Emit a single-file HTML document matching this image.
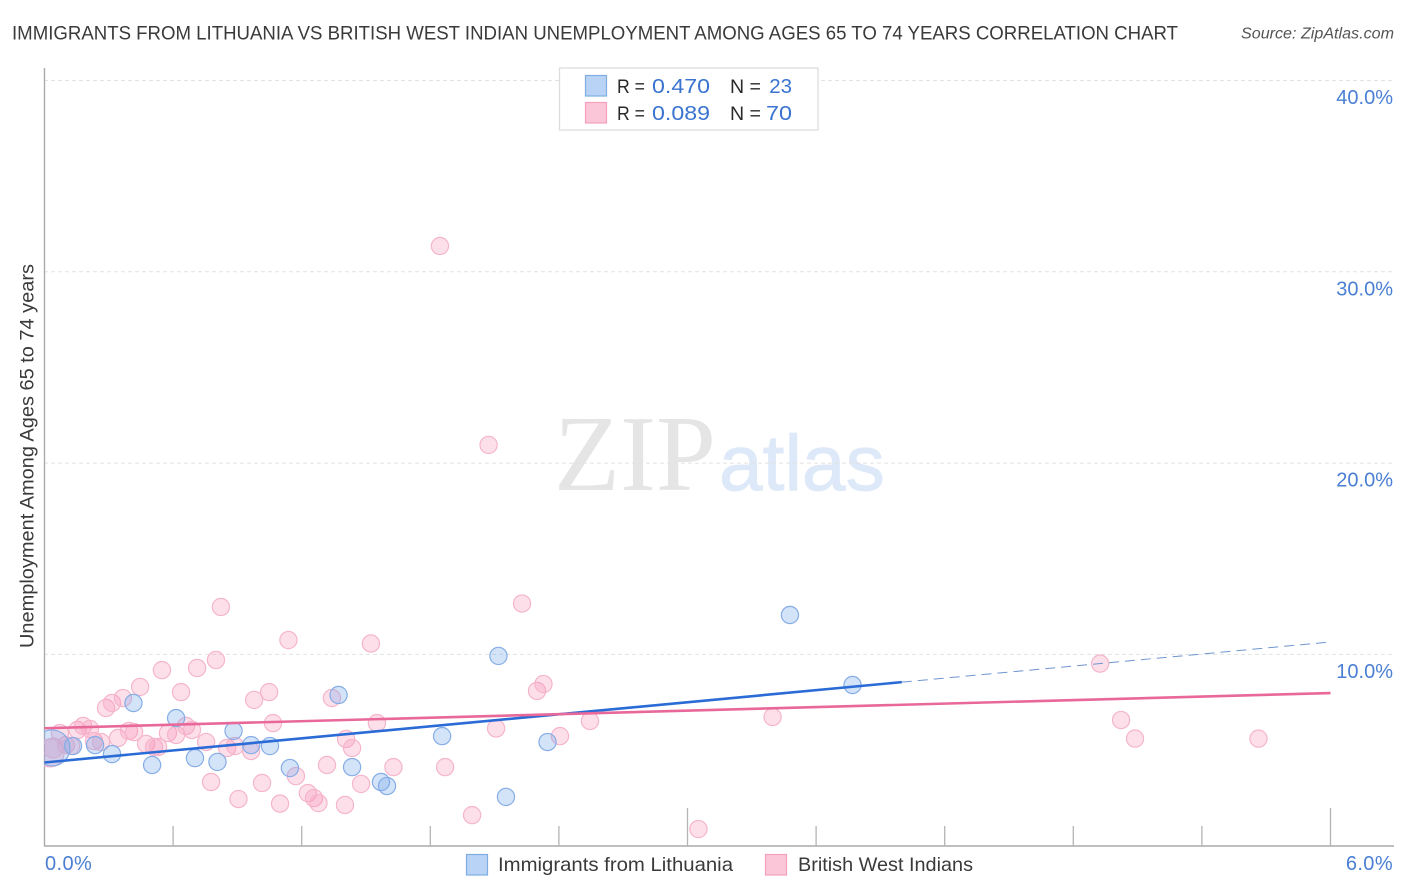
<!DOCTYPE html>
<html lang="en">
<head>
<meta charset="utf-8">
<title>Immigrants from Lithuania vs British West Indian Unemployment Correlation Chart</title>
<style>
  html, body { margin: 0; padding: 0; background: #fff; }
  body { width: 1406px; height: 892px; overflow: hidden; }
  svg { display: block; font-family: "Liberation Sans", sans-serif; }
</style>
</head>
<body>
<svg id="chart" width="1406" height="892" viewBox="0 0 1406 892">
  <defs>
    <clipPath id="plot-clip"><rect x="44" y="60" width="1350" height="786"></rect></clipPath>
  </defs>

  <text x="12" y="39.5" font-size="19.5" fill="#3a3a3a" textLength="1166" lengthAdjust="spacingAndGlyphs">IMMIGRANTS FROM LITHUANIA VS BRITISH WEST INDIAN UNEMPLOYMENT AMONG AGES 65 TO 74 YEARS CORRELATION CHART</text>
  <text x="1241" y="38.5" font-size="15.5" font-style="italic" fill="#555" textLength="153" lengthAdjust="spacingAndGlyphs">Source: ZipAtlas.com</text>

  <g>
    <text x="554" y="490" font-family="'Liberation Serif', serif" font-size="108" fill="#e5e5e5">ZIP</text>
    <text x="719" y="490" font-size="78.5" fill="#dde8f8" stroke="#dde8f8" stroke-width="0.8">atlas</text>
  </g>

  <g id="grid"></g>
  <g id="axes">
    <line x1="44.5" y1="68" x2="44.5" y2="846" stroke="#aaa" stroke-width="1.4"></line>
    <line x1="44" y1="846" x2="1394" y2="846" stroke="#aaa" stroke-width="1.4"></line>
  </g>
  <g id="x-ticks"></g>
  <g id="y-labels"></g>
  <g id="x-labels"></g>

  <text transform="translate(33.5 456) rotate(-90)" font-size="19" fill="#3a3a3a" text-anchor="middle" textLength="384" lengthAdjust="spacingAndGlyphs">Unemployment Among Ages 65 to 74 years</text>

  <g id="points" clip-path="url(#plot-clip)"></g>
  <g id="trends"></g>

  <g>
    <rect x="559.5" y="68" width="258.5" height="62" fill="#fff" stroke="#ddd" stroke-width="1.3"></rect>
    <rect x="585.5" y="75.5" width="21" height="20.5" fill="#b9d3f6" stroke="#7fadE2" stroke-width="1.2"></rect>
    <rect x="585.5" y="102.5" width="21" height="20.5" fill="#fcc6d9" stroke="#f2a0bb" stroke-width="1.2"></rect>
    <g font-size="19" fill="#2a2a2a">
      <text x="617" y="93" textLength="28" lengthAdjust="spacingAndGlyphs">R =</text>
      <text x="617" y="120" textLength="28" lengthAdjust="spacingAndGlyphs">R =</text>
      <text x="730" y="93" textLength="31" lengthAdjust="spacingAndGlyphs">N =</text>
      <text x="730" y="120" textLength="31" lengthAdjust="spacingAndGlyphs">N =</text>
    </g>
    <g font-size="20.5" fill="#3a74cf">
      <text x="652" y="93" textLength="58" lengthAdjust="spacingAndGlyphs">0.470</text>
      <text x="652" y="120" textLength="58" lengthAdjust="spacingAndGlyphs">0.089</text>
      <text x="792" y="93" text-anchor="end">23</text>
      <text x="792" y="120" text-anchor="end" textLength="26" lengthAdjust="spacingAndGlyphs">70</text>
    </g>
  </g>

  <g>
    <g>
      <rect x="466.5" y="854.5" width="21" height="20.5" fill="#b9d3f6" stroke="#7fadE2" stroke-width="1.2"></rect>
      <text x="498" y="871" font-size="19.5" fill="#3a3a3a" textLength="235" lengthAdjust="spacingAndGlyphs">Immigrants from Lithuania</text>
    </g>
    <g>
      <rect x="765.5" y="854.5" width="21" height="20.5" fill="#fcc6d9" stroke="#f2a0bb" stroke-width="1.2"></rect>
      <text x="798" y="871" font-size="19.5" fill="#3a3a3a" textLength="175" lengthAdjust="spacingAndGlyphs">British West Indians</text>
    </g>
  </g>
</svg>

<script>
const xTickValues = [0.6, 1.2, 1.8, 2.4, 3.0, 3.6, 4.2, 4.8, 5.4, 6.0];
const xMajorTicks = [3.0, 6.0];
const xTickLabels = ["0.0%", "6.0%"];
const xLabelValues = [0, 6];
const yTickValues = [10, 20, 30, 40];
const yTickLabels = ["10.0%", "20.0%", "30.0%", "40.0%"];

const lithuaniaX = [0.035,0.133,0.236,0.315,0.415,0.502,0.614,0.702,0.807,0.882,0.964,1.052,1.145,1.372,1.435,1.570,1.598,1.855,2.118,2.153,2.347,3.478,3.770];
const lithuaniaY = [5.11,5.21,5.26,4.79,7.46,4.22,6.67,4.58,4.38,6.00,5.26,5.21,4.06,7.88,4.11,3.33,3.12,5.73,9.92,2.55,5.42,12.06,8.40];

const westIndianX = [0.026,0.040,0.100,0.072,0.124,0.154,0.180,0.212,0.231,0.264,0.287,0.315,0.366,0.446,0.548,0.637,0.712,0.800,0.343,0.394,0.418,0.474,0.511,0.530,0.576,0.614,0.660,0.688,0.754,0.777,0.852,0.889,0.905,0.964,1.015,0.978,1.048,1.066,1.099,1.173,1.229,1.257,1.278,1.318,1.341,1.402,1.407,1.435,1.477,1.551,1.628,1.869,1.995,0.823,1.138,1.523,1.845,2.072,2.228,2.107,2.298,2.328,2.405,2.545,3.051,3.397,4.925,5.023,5.088,5.664];
const westIndianY = [4.85,5.11,5.26,5.89,5.21,6.05,6.26,6.10,5.47,5.42,7.20,7.46,7.72,8.30,9.18,8.03,9.29,9.71,5.63,6.00,5.94,5.32,5.16,5.16,5.89,5.79,6.26,6.05,5.42,3.33,5.11,5.21,2.44,4.95,3.28,7.62,8.03,6.41,2.20,3.64,2.75,2.49,2.23,4.22,7.72,2.13,5.58,5.11,3.23,6.41,4.11,4.11,1.60,12.48,10.75,10.57,31.35,20.95,12.66,6.13,8.09,8.45,5.73,6.52,0.87,6.73,9.52,6.57,5.60,5.60];

const lithuaniaTrend = [4.35, 10.65];
const lithuaniaTrendSolidEnd = 4.0;
const westIndianTrend = [6.14, 7.98];
const trendDomain = [0, 6];

const NS = "http://www.w3.org/2000/svg";
const xScale = v => 44.5 + v * (1330.5 - 44.5) / 6;
const yScale = v => 845.7 - v * 19.13;

function make(tag, parentId, attrs) {
  const el = document.createElementNS(NS, tag);
  for (const k in attrs) el.setAttribute(k, attrs[k]);
  document.getElementById(parentId).appendChild(el);
  return el;
}

yTickValues.forEach((v, i) => {
  const grid = make("line", "grid", { x1: 44, x2: 1394, y1: yScale(v), y2: yScale(v), stroke: "#e2e2e2", "stroke-width": 1, "stroke-dasharray": "4 3" });
  
  
  const label = make("text", "y-labels", { x: 1393, y: yScale(v) + 23.5, "text-anchor": "end", "font-size": 20, fill: "#4a7fd3" });
  label.textContent = yTickLabels[i];
  
  
});

xTickValues.forEach(v => {
  const top = xMajorTicks.includes(v) ? 808 : 826;
  const tick = make("line", "x-ticks", { x1: xScale(v), x2: xScale(v), y1: top, y2: 846, stroke: "#b4b4b4", "stroke-width": 1.3 });
  
  
});

xLabelValues.forEach((v, i) => {
  const anchorRight = i === 1;
  const label = make("text", "x-labels", { x: anchorRight ? 1393 : 45, y: 870, "text-anchor": anchorRight ? "end" : "start", "font-size": 20, fill: "#4a7fd3", "letter-spacing": 0.4 });
  label.textContent = xTickLabels[i];
  
  
});

westIndianX.forEach((x, i) => {
  const r = i === 0 ? 14 : (i === 1 ? 10 : 8.6);
  const dot = make("circle", "points", { cx: xScale(x), cy: yScale(westIndianY[i]), r: r, fill: "rgba(247,150,185,0.30)", stroke: "#f5b5cb", "stroke-width": 1.2 });
  
  
});

lithuaniaX.forEach((x, i) => {
  const r = i === 0 ? 18 : 8.6;
  const dot = make("circle", "points", { cx: xScale(x), cy: yScale(lithuaniaY[i]), r: r, fill: "rgba(120,170,235,0.33)", stroke: "#86ade6", "stroke-width": 1.2 });
  
  
});

const lithuaniaAt = x => lithuaniaTrend[0] + (lithuaniaTrend[1] - lithuaniaTrend[0]) * (x - trendDomain[0]) / (trendDomain[1] - trendDomain[0]);

const trendDash = make("line", "trends", { x1: xScale(lithuaniaTrendSolidEnd), y1: yScale(lithuaniaAt(lithuaniaTrendSolidEnd)), x2: xScale(trendDomain[1]), y2: yScale(lithuaniaAt(trendDomain[1])), stroke: "#6f96cf", "stroke-width": 1, "stroke-dasharray": "10 6" });



const trendBlue = make("line", "trends", { x1: xScale(trendDomain[0]), y1: yScale(lithuaniaAt(trendDomain[0])), x2: xScale(lithuaniaTrendSolidEnd), y2: yScale(lithuaniaAt(lithuaniaTrendSolidEnd)), stroke: "#2a6bd6", "stroke-width": 2.6 });



const trendPink = make("line", "trends", { x1: xScale(trendDomain[0]), y1: yScale(westIndianTrend[0]), x2: xScale(trendDomain[1]), y2: yScale(westIndianTrend[1]), stroke: "#e8689a", "stroke-width": 2.6 });


</script>
</body>
</html>
